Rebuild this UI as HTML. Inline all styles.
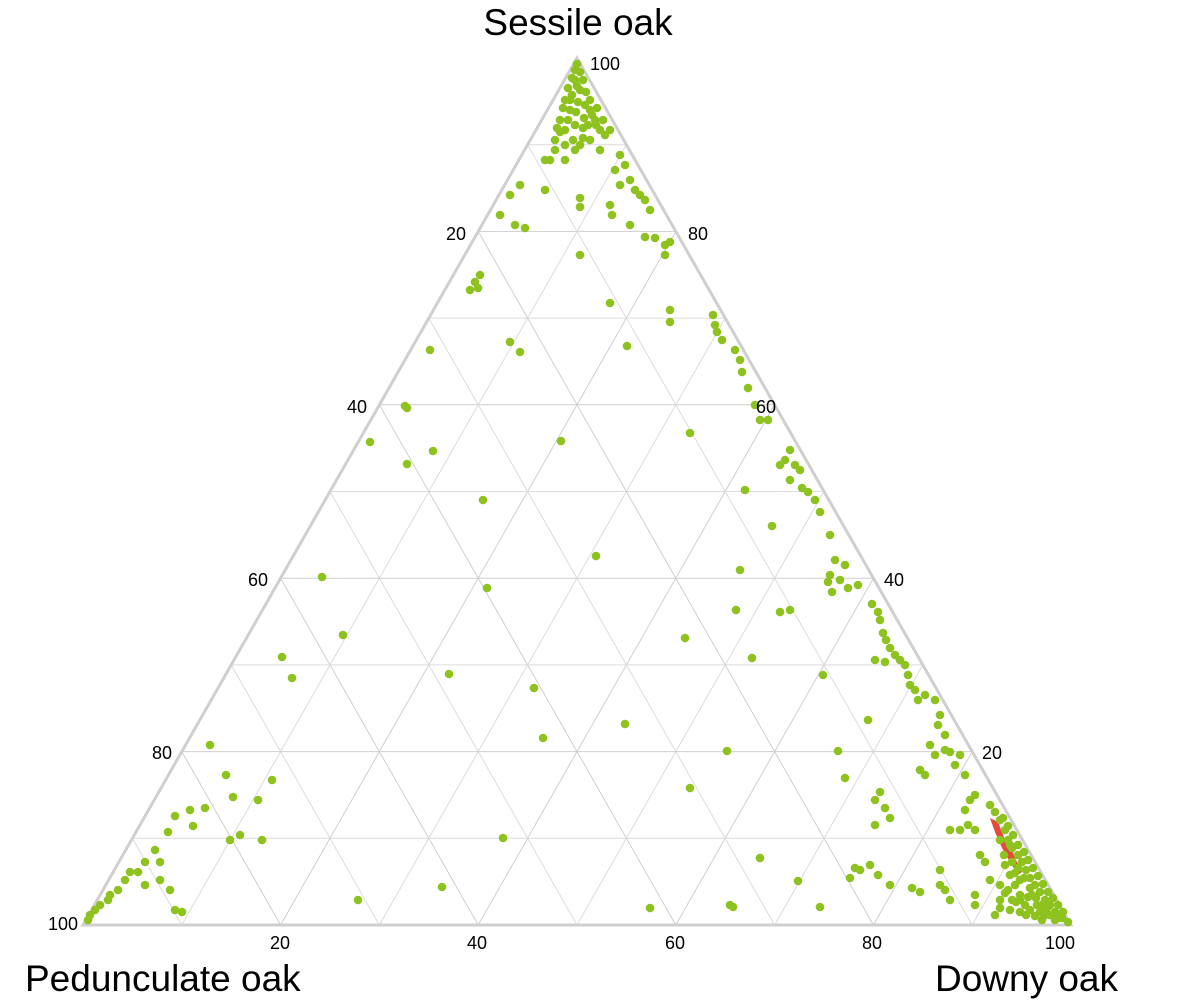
<!DOCTYPE html>
<html><head><meta charset="utf-8"><style>
html,body{margin:0;padding:0;background:#fff;width:1178px;height:1000px;overflow:hidden}
svg{display:block}
text{font-family:"Liberation Sans",sans-serif;fill:#000}
</style></head><body>
<svg id="s" width="1178" height="1000" viewBox="0 0 1178 1000" xmlns="http://www.w3.org/2000/svg">
<g id="grid" stroke="#dcdcdc" stroke-width="1" fill="none"></g>
<polygon points="577,58 83,925 1071,925" fill="none" stroke="#cfcfcf" stroke-width="3"/>
<g id="dots" fill="#8dc21f"></g>
<text x="578" y="35" font-size="37" text-anchor="middle">Sessile oak</text>
<text x="25" y="991" font-size="37">Pedunculate oak</text>
<text x="1118" y="991" font-size="37" text-anchor="end">Downy oak</text>
<g font-size="18">
<text x="590" y="70">100</text>
<text x="466" y="240" text-anchor="end">20</text>
<text x="367" y="413" text-anchor="end">40</text>
<text x="268" y="586" text-anchor="end">60</text>
<text x="172" y="759" text-anchor="end">80</text>
<text x="78" y="930" text-anchor="end">100</text>
<text x="688" y="240">80</text>
<text x="756" y="413">60</text>
<text x="884" y="586">40</text>
<text x="982" y="759">20</text>
<text x="280" y="949" text-anchor="middle">20</text>
<text x="477" y="949" text-anchor="middle">40</text>
<text x="675" y="949" text-anchor="middle">60</text>
<text x="872" y="949" text-anchor="middle">80</text>
<text x="1060" y="949" text-anchor="middle">100</text>
</g>
</svg>
<script>
var T=[577,58],L=[83,925],R=[1071,925],NS="http://www.w3.org/2000/svg";
function lerp(a,b,f){return [a[0]+(b[0]-a[0])*f,a[1]+(b[1]-a[1])*f];}
var g=document.getElementById('grid');
function line(p,q,c){var l=document.createElementNS(NS,'line');l.setAttribute('x1',p[0]);l.setAttribute('y1',p[1]);l.setAttribute('x2',q[0]);l.setAttribute('y2',q[1]);if(c)l.setAttribute('stroke',c);g.appendChild(l);}
for(var k=1;k<10;k++){var f=k/10,c=(k%2==0)?'#cfcfcf':null;
line(lerp(T,L,f),lerp(T,R,f),c);
var b=lerp(L,R,f);
line(b,lerp(R,T,1-f),c);
line(b,lerp(L,T,f),c);}
var d=document.getElementById('dots');
function poly(pts,col){var e=document.createElementNS(NS,'polygon');e.setAttribute('points',pts);e.setAttribute('fill',col);d.appendChild(e);}
poly("990,818 998,822 1005,840 1012,850 1015,858 1022,872 1018,875 1010,862 1002,848 995,832","#e8483a");
var P=[[565,100],[572,95],[580,90],[575,80],[585,105],[590,110],[570,110],[560,120],[595,120],[600,130],[605,135],[565,130],[555,140],[610,130],[590,140],[600,150],[575,150],[555,150],[550,160],[565,160],[545,160],[580,145],[620,155],[625,165],[615,170],[630,180],[635,190],[640,195],[620,185],[545,190],[520,185],[510,195],[500,215],[515,225],[525,228],[580,198],[580,207],[610,205],[612,215],[645,200],[650,210],[630,225],[645,237],[655,238],[665,245],[665,255],[670,242],[580,255],[610,303],
[577,64],[575,70],[580,72],[572,78],[583,80],[577,86],[568,88],[586,92],[570,100],[578,102],[590,100],[563,108],[576,112],[584,118],[568,120],[592,115],[597,108],[575,125],[583,128],[588,125],[560,132],[596,125],[603,120],[573,140],[583,138],[565,145],[557,128],
[480,275],[475,282],[470,290],[478,288],[430,350],[510,342],[520,352],[405,406],[407,408],[370,442],[433,451],[407,464],[483,500],[561,441],[627,346],[670,310],[670,322],[713,315],[715,325],[717,332],[722,340],[735,350],[740,360],[742,372],[748,388],[755,405],[760,420],[768,420],[690,433],[790,450],[785,460],[780,465],[795,465],[800,470],[790,480],[802,488],[808,492],[815,500],[820,512],[745,490],[772,526],[830,535],[835,560],[845,565],[830,575],[840,580],[828,582],[848,588],[858,585],[832,592],[740,570],[596,556],[487,588],[322,577],[343,635],[282,657],[292,678],[210,745],[226,775],[233,797],[258,800],[272,780],[205,808],[190,810],[175,816],[168,832],[193,826],[230,840],[240,835],[262,840],[155,850],[160,862],[145,862],[138,872],[130,872],[125,880],[118,890],[110,895],[108,900],[100,905],[95,910],[90,915],[88,920],[145,885],[160,880],[170,890],[175,910],[182,912],[358,900],[442,887],[503,838],[449,674],[534,688],[543,738],[625,724],[685,638],[752,658],[736,610],[780,612],[790,610],[872,604],[878,612],[880,620],[883,633],[886,640],[890,648],[895,655],[900,660],[905,665],[908,675],[910,685],[915,690],[918,700],[925,695],[935,700],[940,715],[938,725],[945,735],[930,745],[935,755],[945,750],[950,752],[960,755],[955,765],[965,775],[920,770],[925,775],[875,660],[885,662],[823,675],[868,720],[727,751],[838,751],[845,778],[880,792],[875,800],[885,808],[875,825],[890,818],[690,788],[760,858],[798,881],[730,905],[733,907],[820,907],[650,908],[850,878],[860,870],[870,865],[855,868],[878,875],[890,885],[912,888],[920,892],[940,870],[940,885],[945,890],[950,900],[975,895],[975,905],[995,915],[1000,900],[970,800],[975,795],[965,810],[968,825],[960,830],[950,830],[975,830],[980,855],[985,862],[990,880],
[990,805],[995,812],[1000,820],[1005,830],[1008,840],[1012,848],[1018,855],[1022,862],[1026,870],[1030,878],[1035,885],[1040,892],[1045,900],[1050,905],[1055,912],[1062,918],[1068,922],[1005,865],[1010,875],[1015,885],[1020,895],[1025,905],[1030,910],[1040,912],[1000,885],[1005,893],[1012,900],[1020,880],[1032,895],[1045,915],[1010,910],[1020,912],
[1003,818],[1008,826],[1013,835],[1018,845],[1024,852],[1028,860],[1033,868],[1038,876],[1043,884],[1048,892],[1053,898],[1058,905],[1063,912],[1012,862],[1018,868],[1024,878],[1030,888],[1036,898],[1042,905],[1050,915],[1058,918],[1035,916],[1026,915],[1016,902],[1008,890],[1020,900],[1028,897],[1000,840],[1004,855],[1010,845],[1015,873],[1037,905],[1047,908],[1055,920],[1000,908],[1042,920]];
P.forEach(function(p){var c=document.createElementNS(NS,'circle');c.setAttribute('cx',p[0]);c.setAttribute('cy',p[1]);c.setAttribute('r',4.3);d.appendChild(c);});
</script>
</body></html>
